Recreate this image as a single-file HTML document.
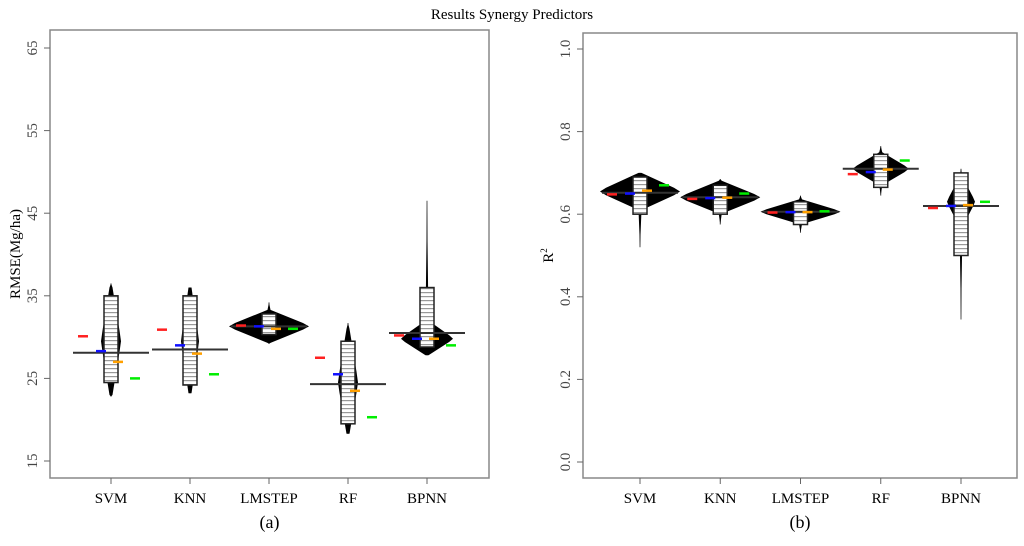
<!DOCTYPE html>
<html><head><meta charset="utf-8"><style>
html,body{margin:0;padding:0;background:#fff;}
svg{display:block;font-family:"Liberation Serif",serif;}
</style></head><body>
<svg id="c" width="1024" height="546" viewBox="0 0 1024 546">
<defs>
<pattern id="stripes" width="6" height="4" patternUnits="userSpaceOnUse">
<rect width="6" height="4" fill="#fff"/><rect y="0" width="6" height="1.2" fill="#999"/>
</pattern>
</defs>
<text x="512" y="19" text-anchor="middle" font-size="15">Results Synergy Predictors</text>
</svg>
<script>
const categories=["SVM","KNN","LMSTEP","RF","BPNN"];
// Panel a: RMSE
const rmseMean=[28.1,28.5,31.3,24.3,30.5];
const rmseMin=[22.8,23.2,29.2,18.3,27.8];
const rmseMax=[36.5,36.0,34.2,31.7,46.5];
const rmsePeak=[29.5,29.5,31.3,24.5,29.8];
const rmsePeakW=[10,9,40,10,26];
const rmseSpread=[6.5,6.5,2.0,6.5,2.2];
const rmseBoxLo=[24.5,24.2,30.3,19.5,28.8];
const rmseBoxHi=[35.0,35.0,32.8,29.5,36.0];
const rmseRed=[30.1,30.9,31.4,27.5,30.2];
const rmseBlue=[28.3,29.0,31.3,25.5,29.8];
const rmseOrange=[27.0,28.0,31.0,23.5,29.8];
const rmseGreen=[25.0,25.5,31.0,20.3,29.0];
const rmseTicks=[15,25,35,45,55,65];
// Panel b: R2
const r2Mean=[0.652,0.641,0.606,0.71,0.62];
const r2Min=[0.52,0.575,0.555,0.645,0.345];
const r2Max=[0.70,0.685,0.645,0.765,0.71];
const r2Peak=[0.655,0.641,0.606,0.71,0.63];
const r2PeakW=[40,40,40,28,14];
const r2Spread=[0.045,0.04,0.03,0.04,0.06];
const r2BoxLo=[0.60,0.60,0.575,0.665,0.50];
const r2BoxHi=[0.69,0.67,0.63,0.745,0.70];
const r2Red=[0.648,0.637,0.604,0.697,0.615];
const r2Blue=[0.650,0.639,0.605,0.702,0.620];
const r2Orange=[0.657,0.640,0.605,0.708,0.622];
const r2Green=[0.670,0.650,0.607,0.730,0.630];
const r2Ticks=[0.0,0.2,0.4,0.6,0.8,1.0];

const svg=document.getElementById('c');
const NS='http://www.w3.org/2000/svg';
function mk(tag,attrs,parent){const e=document.createElementNS(NS,tag);for(const k in attrs)e.setAttribute(k,attrs[k]);(parent||svg).appendChild(e);return e;}

function panel(cfg){
  const g=mk('g',{});
  
  
  const y=v=>cfg.y0+(v-cfg.vmin)/(cfg.vmax-cfg.vmin)*(cfg.y1-cfg.y0);
  const x=i=>cfg.xs[0]+i*(cfg.xs[1]-cfg.xs[0]);
  const frame=mk('rect',{x:cfg.left,y:cfg.top,width:cfg.right-cfg.left,height:cfg.bottom-cfg.top,fill:'none',stroke:'#888','stroke-width':1.5},g);
  
  
  cfg.ticks.forEach(t=>{
    const tk=mk('line',{x1:cfg.left-6,x2:cfg.left,y1:y(t),y2:y(t),stroke:'#666'},g);
    
    
    const tx=mk('text',{x:cfg.left-13,y:y(t),'font-size':15,fill:'#444','text-anchor':'middle',transform:`rotate(-90 ${cfg.left-13} ${y(t)})`},g);
    tx.textContent=cfg.fmt(t);
    
    
  });
  categories.forEach((c,i)=>{
    const cx=x(i);
    const tk=mk('line',{x1:cx,x2:cx,y1:cfg.bottom,y2:cfg.bottom+6,stroke:'#666'},g);
    
    
    const tx=mk('text',{x:cx,y:cfg.bottom+25,'font-size':15,'text-anchor':'middle'},g);
    tx.textContent=c;
    
    
    const bg=mk('g',{},g);
    
    
    const w=cfg.peakW[i];
    const yMax=y(cfg.max[i]),yMin=y(cfg.min[i]),yP=y(cfg.peak[i]);
    const yT=Math.max(y(cfg.peak[i]+cfg.spread[i]),yMax),yB=Math.min(y(cfg.peak[i]-cfg.spread[i]),yMin);
    const wl=mk('line',{x1:cx,x2:cx,y1:yMax,y2:yMin,stroke:'#555','stroke-width':1},bg);
    
    
    const pts=[[cx,yMax],[cx+1.5,yT],[cx+w*0.85,yP-(yP-yT)*0.2],[cx+w,yP],[cx+w*0.85,yP+(yB-yP)*0.2],[cx+1.5,yB],[cx,yMin],[cx-1.5,yB],[cx-w*0.85,yP+(yB-yP)*0.2],[cx-w,yP],[cx-w*0.85,yP-(yP-yT)*0.2],[cx-1.5,yT]];
    const poly=mk('polygon',{points:pts.map(p=>p.join(',')).join(' '),fill:'#000'},bg);
    
    
    const bx=mk('rect',{x:cx-7,y:y(cfg.boxHi[i]),width:14,height:y(cfg.boxLo[i])-y(cfg.boxHi[i]),fill:'url(#stripes)',stroke:'#222','stroke-width':1.5},bg);
    
    
    const ml=mk('line',{x1:cx-38,x2:cx+38,y1:y(cfg.mean[i]),y2:y(cfg.mean[i]),stroke:'#333','stroke-width':2},bg);
    
    
    const series=[[cfg.red,'#ff2020',-28,'red'],[cfg.blue,'#1010ff',-10,'blue'],[cfg.orange,'#ffa000',7,'orange'],[cfg.green,'#00ee00',24,'green']];
    series.forEach(s=>{
      const m=mk('line',{x1:cx+s[2]-5,x2:cx+s[2]+5,y1:y(s[0][i]),y2:y(s[0][i]),stroke:s[1],'stroke-width':2.5},bg);
      
      
    });
  });
  const yl=mk('text',{x:cfg.left-30,y:(cfg.top+cfg.bottom)/2,'font-size':15,'text-anchor':'middle',transform:`rotate(-90 ${cfg.left-30} ${(cfg.top+cfg.bottom)/2})`},g);
  yl.innerHTML=cfg.ylabel;
  
  
  const sl=mk('text',{x:(cfg.left+cfg.right)/2,y:528,'font-size':18,'text-anchor':'middle'},g);
  sl.textContent=cfg.sub;
  
  
}
panel({name:'panel-a-rmse',left:50,right:489,top:30,bottom:478,y0:461,y1:48,vmin:15,vmax:65,xs:[111,190],
  ticks:rmseTicks,fmt:t=>String(t),mean:rmseMean,min:rmseMin,max:rmseMax,peak:rmsePeak,peakW:rmsePeakW,spread:rmseSpread,boxLo:rmseBoxLo,boxHi:rmseBoxHi,
  red:rmseRed,blue:rmseBlue,orange:rmseOrange,green:rmseGreen,ylabel:'RMSE(Mg/ha)',sub:'(a)'});
panel({name:'panel-b-r2',left:583,right:1017,top:33,bottom:478,y0:462,y1:49,vmin:0,vmax:1,xs:[640,720.25],
  ticks:r2Ticks,fmt:t=>t.toFixed(1),mean:r2Mean,min:r2Min,max:r2Max,peak:r2Peak,peakW:r2PeakW,spread:r2Spread,boxLo:r2BoxLo,boxHi:r2BoxHi,
  red:r2Red,blue:r2Blue,orange:r2Orange,green:r2Green,ylabel:'R<tspan font-size="9" dy="-6">2</tspan>',sub:'(b)'});
</script>
</body></html>
